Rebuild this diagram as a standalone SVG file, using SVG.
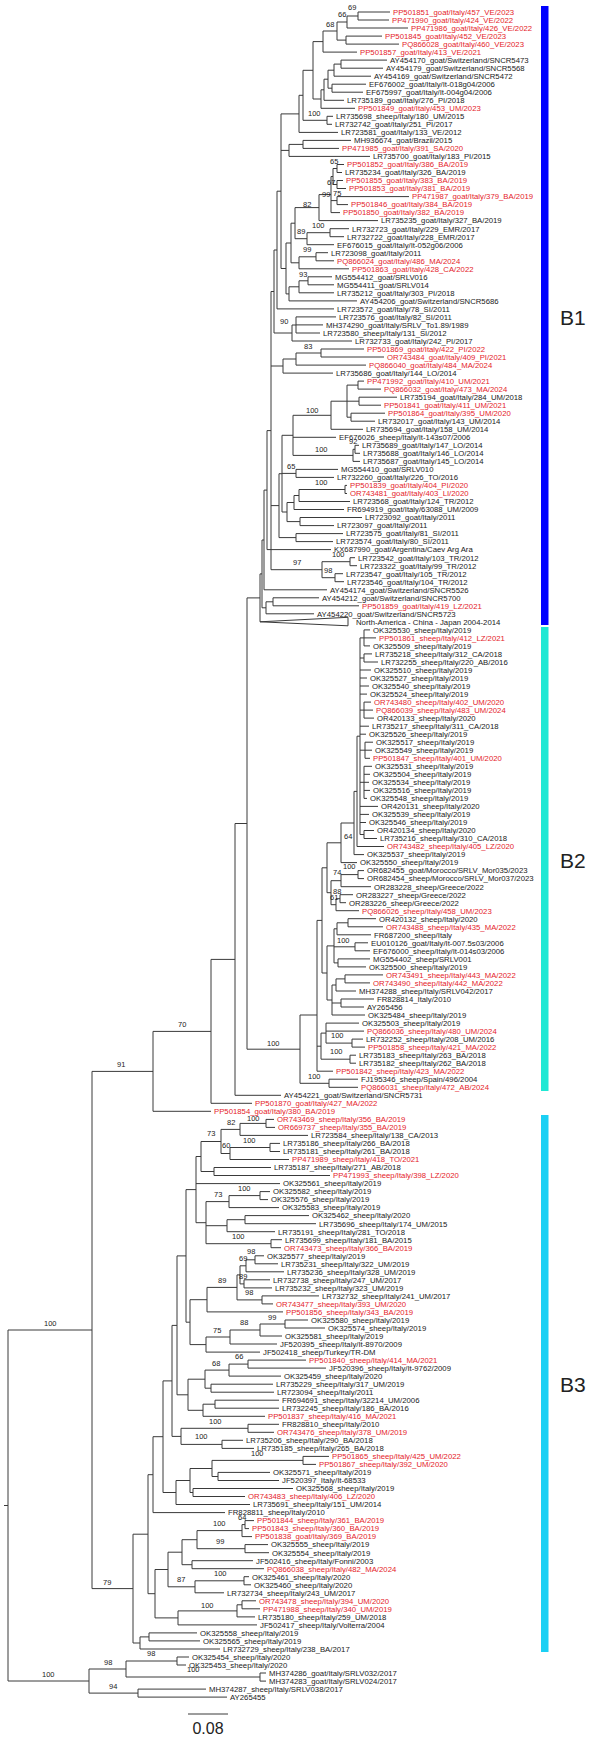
<svg xmlns="http://www.w3.org/2000/svg" width="589" height="1738" viewBox="0 0 589 1738">
<style>
text{font-family:"Liberation Sans",Arial,sans-serif;font-size:7.75px;fill:#1a1a1a}
.r{fill:#e5232a}
.s{font-size:7.5px;fill:#222}
.cl{font-size:21px;fill:#222}
.sc{font-size:16px;fill:#222}
.e{fill:none;stroke:#3a3a3a;stroke-width:1}
</style>
<rect width="589" height="1738" fill="#fff"/>
<g id="connectors">
<path class="e" d="M358 12V20M358 12H390M358 20H389M347 16V28M347 16H358M347 28H408M346 36.1V44.1M346 36.1H382M346 44.1H399M337 22V40.1M337 22H347M337 40.1H346M323 31V52.1M323 31H337M323 52.1H357M341 60.1V68.2M341 60.1H387M341 68.2H383M334 64.1V76.2M334 64.1H341M334 76.2H371M332 84.2V92.2M332 84.2H366M332 92.2H363M328 70.2V88.2M328 70.2H334M328 88.2H332M324 79.2V100.3M324 79.2H328M324 100.3H344M321 89.8V108.3M321 89.8H324M321 108.3H355M313 41.6V99M313 41.6H323M313 99H321M327 116.3V124.3M327 116.3H333M327 124.3H332M303 70.3V120.3M303 70.3H313M303 120.3H327M299 95.3V132.4M299 95.3H303M299 132.4H338M303 140.4V148.4M303 140.4H351M303 148.4H339M289 144.4V156.4M289 144.4H303M289 156.4H370M337 164.5V172.5M337 164.5H344M337 172.5H342M337 180.5V188.5M337 180.5H343M337 188.5H346M333 168.5V184.5M333 168.5H337M333 184.5H337M337 196.6V204.6M337 196.6H409M337 204.6H348M331 176.5V212.6M331 176.5H333M331 200.6H337M331 212.6H340M319 194.6V220.6M319 194.6H331M319 220.6H378M330 228.7V236.7M330 228.7H349M330 236.7H344M307 232.7V244.7M307 232.7H330M307 244.7H334M295 207.6V238.7M295 207.6H319M295 238.7H307M316 252.7V260.8M316 252.7H328M316 260.8H334M299 256.8V268.8M299 256.8H316M299 268.8H349M291 223.2V262.8M291 223.2H295M291 262.8H299M308 276.8V284.8M308 276.8H332M308 284.8H334M299 280.8V292.8M299 280.8H308M299 292.8H334M289 286.8V300.9M289 286.8H299M289 300.9H357M286 243V293.9M286 243H291M286 293.9H289M281 113.9V268.5M281 113.9H299M281 150.4H289M281 268.5H286M277 191.2V308.9M277 191.2H281M277 308.9H334M296 316.9V333M296 316.9H336M296 324.9H323M296 333H320M292 325V341M292 325H296M292 341H352M274 250V333M274 250H277M274 333H292M321 349V357M321 349H364M321 357H384M296 353V365.1M296 353H321M296 365.1H366M283 359V373.1M283 359H296M283 373.1H333M358 381.1V389.1M358 381.1H364M358 389.1H381M359 397.2V405.2M359 397.2H397M359 405.2H381M351 413.2V421.2M351 413.2H385M351 421.2H375M347 385.1V417.2M347 385.1H358M347 401.2H359M347 417.2H351M331 401.2V429.3M331 401.2H347M331 429.3H363M355 445.3V453.3M355 445.3H359M355 453.3H360M353 449.3V461.4M353 449.3H355M353 461.4H360M293 415.3V455.4M293 415.3H331M293 437.3H336M293 455.4H353M296 469.4V477.4M296 469.4H338M296 477.4H334M345 485.4V493.5M345 485.4H347M345 493.5H347M299 489.5V501.5M299 489.5H345M299 501.5H350M294 495.5V509.5M294 495.5H299M294 509.5H344M300 517.5V525.6M300 517.5H362M300 525.6H334M287 502.5V521.6M287 502.5H294M287 521.6H300M282 435.3V512M282 435.3H293M282 473.4H296M282 512H287M296 533.6V541.6M296 533.6H343M296 541.6H333M279 473.7V537.6M279 473.7H282M279 537.6H296M350 557.7V565.7M350 557.7H355M350 565.7H357M335 573.7V581.7M335 573.7H343M335 581.7H344M322 561.7V577.7M322 561.7H350M322 577.7H335M271 291.5V569.7M271 291.5H274M271 366H283M271 505.6H279M271 569.7H322M267 430.6V549.6M267 430.6H271M267 549.6H331M264 490.1V589.8M264 490.1H267M264 589.8H327M273 597.8V605.8M273 597.8H319M273 605.8H359M266 601.8V613.8M266 601.8H273M266 613.8H314M262 540V607.8M262 540H264M262 607.8H266M260 573.9V621.8M260 573.9H262"/>
<path class="e" d="M260 621.8L348 617.3V625.8Z"/>
<path class="e" d="M247 597.9V1049.2M247 597.9H260M247 1049.2H300M364 629.9V645.9M364 629.9H370M364 637.9H376M364 645.9H370M364 653.9V662M364 653.9H372M364 662H378M364 702.1V718.1M364 702.1H371M364 710.1H373M364 718.1H374M365 742.2V758.3M365 742.2H373M365 750.2H372M365 758.3H370M364 766.3V798.4M364 766.3H372M364 774.3H370M364 782.3H369M364 790.4H370M364 798.4H367M364 830.5V838.5M364 830.5H374M364 838.5H377M360 637.9V834.5M360 637.9H364M360 658H364M360 670H371M360 678H367M360 686H369M360 694.1H367M360 710.1H364M360 726.2H369M360 734.2H366M360 750.2H365M360 782.3H364M360 806.4H378M360 814.4H369M360 822.5H366M360 834.5H364M357 736.2V846.5M357 736.2H360M357 846.5H384M354 791.4V854.6M354 791.4H357M354 854.6H364M341 823V862.6M341 823H354M341 862.6H357M358 870.6V878.6M358 870.6H364M358 878.6H364M341 874.6V886.7M341 874.6H358M341 886.7H371M340 894.7V902.7M340 894.7H353M340 902.7H346M336 898.7V910.7M336 898.7H340M336 910.7H359M331 880.7V904.7M331 880.7H341M331 904.7H336M327 842.8V892.7M327 842.8H341M327 892.7H331M348 918.7V926.8M348 918.7H376M348 926.8H383M337 922.8V934.8M337 922.8H348M337 934.8H371M355 942.8V950.8M355 942.8H368M355 950.8H370M338 958.9V966.9M338 958.9H370M338 966.9H366M334 928.8V962.9M334 928.8H337M334 946.8H355M334 962.9H338M345 974.9V982.9M345 974.9H383M345 982.9H370M336 978.9V991M336 978.9H345M336 991H356M341 999V1007M341 999H374M341 1007H364M332 985V1015M332 985H336M332 1003H341M332 1015H365M327 945.9V1000M327 945.9H334M327 1000H332M322 867.8V973M322 867.8H327M322 973H327M352 1039.1V1047.1M352 1039.1H363M352 1047.1H365M326 1023.1V1043.1M326 1023.1H359M326 1031.1H364M326 1043.1H352M350 1055.2V1063.2M350 1055.2H356M350 1063.2H356M321 1033.1V1059.2M321 1033.1H326M321 1059.2H350M317 920.4V1071.2M317 920.4H322M317 1046.2H321M317 1071.2H333M329 1079.2V1087.3M329 1079.2H358M329 1087.3H358M300 1015V1083.3M300 1015H317M300 1083.3H329M235 823.5V1095.3M235 823.5H247M235 1095.3H281M211 959.4V1103.3M211 959.4H235M211 1103.3H252M153 1031.4V1111.3M153 1031.4H211M153 1111.3H211"/>
<path class="e" d="M266 1119.4V1127.4M266 1119.4H274M266 1127.4H275M240 1123.4V1135.4M240 1123.4H266M240 1135.4H308M270 1143.4V1151.5M270 1143.4H280M270 1151.5H280M230 1147.5V1159.5M230 1147.5H270M230 1159.5H289M221 1129.4V1153.5M221 1129.4H240M221 1153.5H230M214 1167.5V1175.5M214 1167.5H271M214 1175.5H330M201 1141.5V1171.5M201 1141.5H221M201 1171.5H214M260 1191.6V1199.6M260 1191.6H270M260 1199.6H268M229 1195.6V1207.6M229 1195.6H260M229 1207.6H279M245 1215.6V1223.7M245 1215.6H309M245 1223.7H316M227 1219.7V1231.7M227 1219.7H245M227 1231.7H275M271 1239.7V1247.7M271 1239.7H282M271 1247.7H281M206 1201.6V1243.7M206 1201.6H229M206 1225.7H227M206 1243.7H271M196 1156.5V1222.7M196 1156.5H201M196 1183.6H280M196 1222.7H206M255 1255.8V1263.8M255 1255.8H264M255 1263.8H278M246 1259.8V1271.8M246 1259.8H255M246 1271.8H284M244 1279.8V1287.9M244 1279.8H270M244 1287.9H272M240 1265.8V1283.9M240 1265.8H246M240 1283.9H244M262 1295.9V1303.9M262 1295.9H319M262 1303.9H273M237 1274.9V1299.9M237 1274.9H240M237 1299.9H262M207 1287.4V1311.9M207 1287.4H237M207 1311.9H283M285 1320V1328M285 1320H308M285 1328H325M260 1324V1336M260 1324H285M260 1336H282M230 1330V1344M230 1330H260M230 1344H277M206 1337V1352.1M206 1337H230M206 1352.1H260M190 1299.7V1344.6M190 1299.7H207M190 1344.6H206M186 1189.6V1322.2M186 1189.6H196M186 1322.2H190M248 1360.1V1368.1M248 1360.1H306M248 1368.1H326M229 1364.1V1376.1M229 1364.1H248M229 1376.1H281M211 1384.2V1392.2M211 1384.2H273M211 1392.2H274M205 1370.1V1388.2M205 1370.1H229M205 1388.2H211M215 1400.2V1408.2M215 1400.2H279M215 1408.2H279M203 1404.2V1416.3M203 1404.2H215M203 1416.3H265M188 1379.2V1410.3M188 1379.2H205M188 1410.3H203M177 1255.9V1394.8M177 1255.9H186M177 1394.8H188M248 1424.3V1432.3M248 1424.3H279M248 1432.3H274M222 1440.3V1448.4M222 1440.3H243M222 1448.4H254M181 1428.3V1444.4M181 1428.3H248M181 1444.4H222M172 1325.4V1436.4M172 1325.4H177M172 1436.4H181M303 1456.4V1464.4M303 1456.4H329M303 1464.4H316M218 1472.4V1480.5M218 1472.4H270M218 1480.5H279M212 1460.4V1476.5M212 1460.4H303M212 1476.5H218M193 1488.5V1496.5M193 1488.5H293M193 1496.5H245M190 1468.5V1492.5M190 1468.5H212M190 1492.5H193M176 1480.5V1504.5M176 1480.5H190M176 1504.5H250M163 1380.9V1492.5M163 1380.9H172M163 1492.5H176M153 1436.7V1512.6M153 1436.7H163M153 1512.6H225M245 1520.6V1528.6M245 1520.6H254M245 1528.6H249M242 1524.6V1536.6M242 1524.6H245M242 1536.6H252M245 1544.6V1552.7M245 1544.6H268M245 1552.7H269M197 1530.6V1548.7M197 1530.6H242M197 1548.7H245M192 1560.7V1568.7M192 1560.7H253M192 1568.7H264M182 1539.7V1564.7M182 1539.7H197M182 1564.7H192M244 1576.7V1584.8M244 1576.7H249M244 1584.8H251M195 1580.8V1592.8M195 1580.8H244M195 1592.8H224M168 1552.2V1586.8M168 1552.2H182M168 1586.8H195M242 1600.8V1608.8M242 1600.8H256M242 1608.8H260M237 1604.8V1616.9M237 1604.8H242M237 1616.9H255M178 1610.9V1624.9M178 1610.9H237M178 1624.9H257M155 1569.5V1617.9M155 1569.5H168M155 1617.9H178M148 1474.7V1593.7M148 1474.7H153M148 1593.7H155M149 1632.9V1640.9M149 1632.9H197M149 1640.9H200M140 1636.9V1649M140 1636.9H149M140 1649H220M133 1534.2V1643M133 1534.2H148M133 1643H140M92 1071.4V1588.6M92 1071.4H153M92 1588.6H133M177 1657V1665M177 1657H189M177 1665H186M260 1673V1681.1M260 1673H266M260 1681.1H266M126 1661V1677M126 1661H177M126 1677H260M138 1689.1V1697.1M138 1689.1H206M138 1697.1H227M89 1669V1693.1M89 1669H126M89 1693.1H138M8 1330V1681M8 1330H92M8 1681H89M4 1505.5H8"/>
</g>
<g id="clade-bars">
<rect x="541" y="6" width="7.5" height="619" fill="#0000ff"/>
<rect x="541" y="627" width="7.5" height="464" fill="#1fe8d4"/>
<rect x="541" y="1115" width="7.5" height="537" fill="#1bd0f4"/>
<text class="cl" x="560" y="325">B1</text>
<text class="cl" x="560" y="868">B2</text>
<text class="cl" x="560" y="1392">B3</text>
</g>
<g id="support">
<text class="s" x="348" y="10">69</text><text class="s" x="338" y="17">66</text><text class="s" x="326" y="27">68</text><text class="s" x="308" y="116">100</text><text class="s" x="330" y="164">65</text><text class="s" x="327" y="185">67</text><text class="s" x="333" y="196">75</text><text class="s" x="322" y="197">99</text><text class="s" x="303" y="207">82</text><text class="s" x="312" y="228">100</text><text class="s" x="297" y="234">89</text><text class="s" x="303" y="252">99</text><text class="s" x="299" y="277">93</text><text class="s" x="280" y="324">90</text><text class="s" x="304" y="349">83</text><text class="s" x="306" y="413">100</text><text class="s" x="349" y="444">92</text><text class="s" x="315" y="452">100</text><text class="s" x="287" y="469">65</text><text class="s" x="315" y="485">100</text><text class="s" x="332" y="557">100</text><text class="s" x="293" y="565">97</text><text class="s" x="324" y="573">98</text>
<text class="s" x="344" y="839">64</text><text class="s" x="343" y="869">100</text><text class="s" x="333" y="875">74</text><text class="s" x="333" y="894">88</text><text class="s" x="330" y="900">61</text><text class="s" x="337" y="943">100</text><text class="s" x="331" y="1038">100</text><text class="s" x="330" y="1054">100</text><text class="s" x="308" y="1079">100</text><text class="s" x="267" y="1046">100</text><text class="s" x="178" y="1027">70</text><text class="s" x="117" y="1067">91</text>
<text class="s" x="227" y="1125">82</text><text class="s" x="247" y="1121">100</text><text class="s" x="207" y="1136">73</text><text class="s" x="243" y="1143">100</text><text class="s" x="222" y="1148">60</text><text class="s" x="214" y="1197">73</text><text class="s" x="238" y="1191">100</text><text class="s" x="232" y="1239">100</text><text class="s" x="247" y="1254">98</text><text class="s" x="239" y="1261">69</text><text class="s" x="239" y="1279">89</text><text class="s" x="218" y="1283">89</text><text class="s" x="245" y="1295">98</text><text class="s" x="268" y="1320">99</text><text class="s" x="240" y="1325">88</text><text class="s" x="213" y="1333">75</text><text class="s" x="235" y="1359">66</text><text class="s" x="212" y="1366">68</text><text class="s" x="209" y="1424">100</text><text class="s" x="195" y="1439">100</text><text class="s" x="251" y="1456">100</text><text class="s" x="238" y="1520">64</text><text class="s" x="213" y="1526">100</text><text class="s" x="216" y="1544">99</text><text class="s" x="214" y="1576">100</text><text class="s" x="177" y="1582">87</text><text class="s" x="103" y="1585">79</text><text class="s" x="201" y="1608">100</text><text class="s" x="147" y="1656">98</text><text class="s" x="104" y="1665">98</text><text class="s" x="187" y="1672">100</text><text class="s" x="42" y="1677">100</text><text class="s" x="109" y="1689">94</text><text class="s" x="44" y="1326">100</text>
</g>
<g id="scale">
<path class="e" d="M188 1714H228"/>
<text class="sc" x="208" y="1734" text-anchor="middle">0.08</text>
</g>
<g id="leaves">
<g id="t1"><text class="r" x="393" y="14.8">PP501851_goat/Italy/457_VE/2023</text></g>
<g id="t2"><text class="r" x="392" y="22.8">PP471990_goat/Italy/424_VE/2022</text></g>
<g id="t3"><text class="r" x="411" y="30.8">PP471986_goat/Italy/426_VE/2022</text></g>
<g id="t4"><text class="r" x="385" y="38.9">PP501845_goat/Italy/452_VE/2023</text></g>
<g id="t5"><text class="r" x="402" y="46.9">PQ866028_goat/Italy/460_VE/2023</text></g>
<g id="t6"><text class="r" x="360" y="54.9">PP501857_goat/Italy/413_VE/2021</text></g>
<g id="t7"><text x="390" y="62.9">AY454170_goat/Switzerland/SNCR5473</text></g>
<g id="t8"><text x="386" y="71">AY454179_goat/Switzerland/SNCR5568</text></g>
<g id="t9"><text x="374" y="79">AY454169_goat/Switzerland/SNCR5472</text></g>
<g id="t10"><text x="369" y="87">EF676002_goat/Italy/It-018g04/2006</text></g>
<g id="t11"><text x="366" y="95">EF675997_goat/Italy/It-004g04/2006</text></g>
<g id="t12"><text x="347" y="103.1">LR735189_goat/Italy/276_PI/2018</text></g>
<g id="t13"><text class="r" x="358" y="111.1">PP501849_goat/Italy/453_UM/2023</text></g>
<g id="t14"><text x="336" y="119.1">LR735698_sheep/Italy/180_UM/2015</text></g>
<g id="t15"><text x="335" y="127.1">LR732742_goat/Italy/251_PI/2017</text></g>
<g id="t16"><text x="341" y="135.2">LR723581_goat/Italy/133_VE/2012</text></g>
<g id="t17"><text x="354" y="143.2">MH936674_goat/Brazil/2015</text></g>
<g id="t18"><text class="r" x="342" y="151.2">PP471985_goat/Italy/391_SA/2020</text></g>
<g id="t19"><text x="373" y="159.2">LR735700_goat/Italy/183_PI/2015</text></g>
<g id="t20"><text class="r" x="347" y="167.3">PP501852_goat/Italy/386_BA/2019</text></g>
<g id="t21"><text x="345" y="175.3">LR735234_goat/Italy/326_BA/2019</text></g>
<g id="t22"><text class="r" x="346" y="183.3">PP501855_goat/Italy/383_BA/2019</text></g>
<g id="t23"><text class="r" x="349" y="191.3">PP501853_goat/Italy/381_BA/2019</text></g>
<g id="t24"><text class="r" x="412" y="199.4">PP471987_goat/Italy/379_BA/2019</text></g>
<g id="t25"><text class="r" x="351" y="207.4">PP501846_goat/Italy/384_BA/2019</text></g>
<g id="t26"><text class="r" x="343" y="215.4">PP501850_goat/Italy/382_BA/2019</text></g>
<g id="t27"><text x="381" y="223.4">LR735235_goat/Italy/327_BA/2019</text></g>
<g id="t28"><text x="352" y="231.5">LR732723_goat/Italy/229_EMR/2017</text></g>
<g id="t29"><text x="347" y="239.5">LR732722_goat/Italy/228_EMR/2017</text></g>
<g id="t30"><text x="337" y="247.5">EF676015_goat/Italy/It-052g06/2006</text></g>
<g id="t31"><text x="331" y="255.5">LR723098_goat/Italy/2011</text></g>
<g id="t32"><text class="r" x="337" y="263.6">PQ866024_goat/Italy/486_MA/2024</text></g>
<g id="t33"><text class="r" x="352" y="271.6">PP501863_goat/Italy/428_CA/2022</text></g>
<g id="t34"><text x="335" y="279.6">MG554412_goat/SRLV016</text></g>
<g id="t35"><text x="337" y="287.6">MG554411_goat/SRLV014</text></g>
<g id="t36"><text x="337" y="295.6">LR735212_goat/Italy/303_PI/2018</text></g>
<g id="t37"><text x="360" y="303.7">AY454206_goat/Switzerland/SNCR5686</text></g>
<g id="t38"><text x="337" y="311.7">LR723572_goat/Italy/78_SI/2011</text></g>
<g id="t39"><text x="339" y="319.7">LR723576_goat/Italy/82_SI/2011</text></g>
<g id="t40"><text x="326" y="327.7">MH374290_goat/Italy/SRLV_To1.89/1989</text></g>
<g id="t41"><text x="323" y="335.8">LR723580_sheep/Italy/131_SI/2012</text></g>
<g id="t42"><text x="355" y="343.8">LR732733_goat/Italy/242_PI/2017</text></g>
<g id="t43"><text class="r" x="367" y="351.8">PP501869_goat/Italy/422_PI/2022</text></g>
<g id="t44"><text class="r" x="387" y="359.8">OR743484_goat/Italy/409_PI/2021</text></g>
<g id="t45"><text class="r" x="369" y="367.9">PQ866040_goat/Italy/484_MA/2024</text></g>
<g id="t46"><text x="336" y="375.9">LR735686_goat/Italy/144_LO/2014</text></g>
<g id="t47"><text class="r" x="367" y="383.9">PP471992_goat/Italy/410_UM/2021</text></g>
<g id="t48"><text class="r" x="384" y="391.9">PQ866032_goat/Italy/473_MA/2024</text></g>
<g id="t49"><text x="400" y="400">LR735194_goat/Italy/284_UM/2018</text></g>
<g id="t50"><text class="r" x="384" y="408">PP501841_goat/Italy/411_UM/2021</text></g>
<g id="t51"><text class="r" x="388" y="416">PP501864_goat/Italy/395_UM/2020</text></g>
<g id="t52"><text x="378" y="424">LR732017_goat/Italy/143_UM/2014</text></g>
<g id="t53"><text x="366" y="432.1">LR735694_goat/Italy/158_UM/2014</text></g>
<g id="t54"><text x="339" y="440.1">EF676026_sheep/Italy/It-143s07/2006</text></g>
<g id="t55"><text x="362" y="448.1">LR735689_goat/Italy/147_LO/2014</text></g>
<g id="t56"><text x="363" y="456.1">LR735688_goat/Italy/146_LO/2014</text></g>
<g id="t57"><text x="363" y="464.2">LR735687_goat/Italy/145_LO/2014</text></g>
<g id="t58"><text x="341" y="472.2">MG554410_goat/SRLV010</text></g>
<g id="t59"><text x="337" y="480.2">LR732260_goat/Italy/226_TO/2016</text></g>
<g id="t60"><text class="r" x="350" y="488.2">PP501839_goat/Italy/404_PI/2020</text></g>
<g id="t61"><text class="r" x="350" y="496.3">OR743481_goat/Italy/403_LI/2020</text></g>
<g id="t62"><text x="353" y="504.3">LR723568_goat/Italy/124_TR/2012</text></g>
<g id="t63"><text x="347" y="512.3">FR694919_goat/Italy/63088_UM/2009</text></g>
<g id="t64"><text x="365" y="520.3">LR723092_goat/Italy/2011</text></g>
<g id="t65"><text x="337" y="528.4">LR723097_goat/Italy/2011</text></g>
<g id="t66"><text x="346" y="536.4">LR723575_goat/Italy/81_SI/2011</text></g>
<g id="t67"><text x="336" y="544.4">LR723574_goat/Italy/80_SI/2011</text></g>
<g id="t68"><text x="334" y="552.4">KX687990_goat/Argentina/Caev Arg Ara</text></g>
<g id="t69"><text x="358" y="560.5">LR723542_goat/Italy/103_TR/2012</text></g>
<g id="t70"><text x="360" y="568.5">LR723322_goat/Italy/99_TR/2012</text></g>
<g id="t71"><text x="346" y="576.5">LR723547_goat/Italy/105_TR/2012</text></g>
<g id="t72"><text x="347" y="584.5">LR723546_goat/Italy/104_TR/2012</text></g>
<g id="t73"><text x="330" y="592.6">AY454174_goat/Switzerland/SNCR5526</text></g>
<g id="t74"><text x="322" y="600.6">AY454212_goat/Switzerland/SNCR5700</text></g>
<g id="t75"><text class="r" x="362" y="608.6">PP501859_goat/Italy/419_LZ/2021</text></g>
<g id="t76"><text x="317" y="616.6">AY454220_goat/Switzerland/SNCR5723</text></g>
<g id="t77"><text x="356" y="624.6">North-America - China - Japan 2004-2014</text></g>
<g id="t78"><text x="373" y="632.7">OK325530_sheep/Italy/2019</text></g>
<g id="t79"><text class="r" x="379" y="640.7">PP501861_sheep/Italy/412_LZ/2021</text></g>
<g id="t80"><text x="373" y="648.7">OK325509_sheep/Italy/2019</text></g>
<g id="t81"><text x="375" y="656.7">LR735218_sheep/Italy/312_CA/2018</text></g>
<g id="t82"><text x="381" y="664.8">LR732255_sheep/Italy/220_AB/2016</text></g>
<g id="t83"><text x="374" y="672.8">OK325510_sheep/Italy/2019</text></g>
<g id="t84"><text x="370" y="680.8">OK325527_sheep/Italy/2019</text></g>
<g id="t85"><text x="372" y="688.8">OK325540_sheep/Italy/2019</text></g>
<g id="t86"><text x="370" y="696.9">OK325524_sheep/Italy/2019</text></g>
<g id="t87"><text class="r" x="374" y="704.9">OR743480_sheep/Italy/402_UM/2020</text></g>
<g id="t88"><text class="r" x="376" y="712.9">PQ866039_sheep/Italy/483_UM/2024</text></g>
<g id="t89"><text x="377" y="720.9">OR420133_sheep/Italy/2020</text></g>
<g id="t90"><text x="372" y="729">LR735217_sheep/Italy/311_CA/2018</text></g>
<g id="t91"><text x="369" y="737">OK325526_sheep/Italy/2019</text></g>
<g id="t92"><text x="376" y="745">OK325517_sheep/Italy/2019</text></g>
<g id="t93"><text x="375" y="753">OK325549_sheep/Italy/2019</text></g>
<g id="t94"><text class="r" x="373" y="761.1">PP501847_sheep/Italy/401_UM/2020</text></g>
<g id="t95"><text x="375" y="769.1">OK325531_sheep/Italy/2019</text></g>
<g id="t96"><text x="373" y="777.1">OK325504_sheep/Italy/2019</text></g>
<g id="t97"><text x="372" y="785.1">OK325534_sheep/Italy/2019</text></g>
<g id="t98"><text x="373" y="793.2">OK325516_sheep/Italy/2019</text></g>
<g id="t99"><text x="370" y="801.2">OK325548_sheep/Italy/2019</text></g>
<g id="t100"><text x="381" y="809.2">OR420131_sheep/Italy/2020</text></g>
<g id="t101"><text x="372" y="817.2">OK325539_sheep/Italy/2019</text></g>
<g id="t102"><text x="369" y="825.3">OK325546_sheep/Italy/2019</text></g>
<g id="t103"><text x="377" y="833.3">OR420134_sheep/Italy/2020</text></g>
<g id="t104"><text x="380" y="841.3">LR735216_sheep/Italy/310_CA/2018</text></g>
<g id="t105"><text class="r" x="387" y="849.3">OR743482_sheep/Italy/405_LZ/2020</text></g>
<g id="t106"><text x="367" y="857.4">OK325537_sheep/Italy/2019</text></g>
<g id="t107"><text x="360" y="865.4">OK325550_sheep/Italy/2019</text></g>
<g id="t108"><text x="367" y="873.4">OR682455_goat/Morocco/SRLV_Mor035/2023</text></g>
<g id="t109"><text x="367" y="881.4">OR682454_sheep/Morocco/SRLV_Mor037/2023</text></g>
<g id="t110"><text x="374" y="889.5">OR283228_sheep/Greece/2022</text></g>
<g id="t111"><text x="356" y="897.5">OR283227_sheep/Greece/2022</text></g>
<g id="t112"><text x="349" y="905.5">OR283226_sheep/Greece/2022</text></g>
<g id="t113"><text class="r" x="362" y="913.5">PQ866026_sheep/Italy/458_UM/2023</text></g>
<g id="t114"><text x="379" y="921.5">OR420132_sheep/Italy/2020</text></g>
<g id="t115"><text class="r" x="386" y="929.6">OR743488_sheep/Italy/435_MA/2022</text></g>
<g id="t116"><text x="374" y="937.6">FR687200_sheep/Italy</text></g>
<g id="t117"><text x="371" y="945.6">EU010126_goat/Italy/It-007.5s03/2006</text></g>
<g id="t118"><text x="373" y="953.6">EF676000_sheep/Italy/It-014s03/2006</text></g>
<g id="t119"><text x="373" y="961.7">MG554402_sheep/SRLV001</text></g>
<g id="t120"><text x="369" y="969.7">OK325500_sheep/Italy/2019</text></g>
<g id="t121"><text class="r" x="386" y="977.7">OR743491_sheep/Italy/443_MA/2022</text></g>
<g id="t122"><text class="r" x="373" y="985.7">OR743490_sheep/Italy/442_MA/2022</text></g>
<g id="t123"><text x="359" y="993.8">MH374288_sheep/Italy/SRLV042/2017</text></g>
<g id="t124"><text x="377" y="1001.8">FR828814_Italy/2010</text></g>
<g id="t125"><text x="367" y="1009.8">AY265456</text></g>
<g id="t126"><text x="368" y="1017.8">OK325484_sheep/Italy/2019</text></g>
<g id="t127"><text x="362" y="1025.9">OK325503_sheep/Italy/2019</text></g>
<g id="t128"><text class="r" x="367" y="1033.9">PQ866036_sheep/Italy/480_UM/2024</text></g>
<g id="t129"><text x="366" y="1041.9">LR732252_sheep/Italy/208_UM/2016</text></g>
<g id="t130"><text class="r" x="368" y="1049.9">PP501858_sheep/Italy/421_MA/2022</text></g>
<g id="t131"><text x="359" y="1058">LR735183_sheep/Italy/263_BA/2018</text></g>
<g id="t132"><text x="359" y="1066">LR735182_sheep/Italy/262_BA/2018</text></g>
<g id="t133"><text class="r" x="336" y="1074">PP501842_sheep/Italy/423_MA/2022</text></g>
<g id="t134"><text x="361" y="1082">FJ195346_sheep/Spain/496/2004</text></g>
<g id="t135"><text class="r" x="361" y="1090.1">PQ866031_sheep/Italy/472_AB/2024</text></g>
<g id="t136"><text x="284" y="1098.1">AY454221_goat/Switzerland/SNCR5731</text></g>
<g id="t137"><text class="r" x="255" y="1106.1">PP501870_goat/Italy/427_MA/2022</text></g>
<g id="t138"><text class="r" x="214" y="1114.1">PP501854_goat/Italy/380_BA/2019</text></g>
<g id="t139"><text class="r" x="277" y="1122.2">OR743469_sheep/Italy/356_BA/2019</text></g>
<g id="t140"><text class="r" x="278" y="1130.2">OR669737_sheep/Italy/355_BA/2019</text></g>
<g id="t141"><text x="311" y="1138.2">LR723584_sheep/Italy/138_CA/2013</text></g>
<g id="t142"><text x="283" y="1146.2">LR735186_sheep/Italy/266_BA/2018</text></g>
<g id="t143"><text x="283" y="1154.3">LR735181_sheep/Italy/261_BA/2018</text></g>
<g id="t144"><text class="r" x="292" y="1162.3">PP471989_sheep/Italy/418_TO/2021</text></g>
<g id="t145"><text x="274" y="1170.3">LR735187_sheep/Italy/271_AB/2018</text></g>
<g id="t146"><text class="r" x="333" y="1178.3">PP471993_sheep/Italy/398_LZ/2020</text></g>
<g id="t147"><text x="283" y="1186.4">OK325561_sheep/Italy/2019</text></g>
<g id="t148"><text x="273" y="1194.4">OK325582_sheep/Italy/2019</text></g>
<g id="t149"><text x="271" y="1202.4">OK325576_sheep/Italy/2019</text></g>
<g id="t150"><text x="282" y="1210.4">OK325583_sheep/Italy/2019</text></g>
<g id="t151"><text x="312" y="1218.4">OK325462_sheep/Italy/2020</text></g>
<g id="t152"><text x="319" y="1226.5">LR735696_sheep/Italy/174_UM/2015</text></g>
<g id="t153"><text x="278" y="1234.5">LR735191_sheep/Italy/281_TO/2018</text></g>
<g id="t154"><text x="285" y="1242.5">LR735699_sheep/Italy/181_BA/2015</text></g>
<g id="t155"><text class="r" x="284" y="1250.5">OR743473_sheep/Italy/366_BA/2019</text></g>
<g id="t156"><text x="267" y="1258.6">OK325577_sheep/Italy/2019</text></g>
<g id="t157"><text x="281" y="1266.6">LR735231_sheep/Italy/322_UM/2019</text></g>
<g id="t158"><text x="287" y="1274.6">LR735236_sheep/Italy/328_UM/2019</text></g>
<g id="t159"><text x="273" y="1282.6">LR732738_sheep/Italy/247_UM/2017</text></g>
<g id="t160"><text x="275" y="1290.7">LR735232_sheep/Italy/323_UM/2019</text></g>
<g id="t161"><text x="322" y="1298.7">LR732732_sheep/Italy/241_UM/2017</text></g>
<g id="t162"><text class="r" x="276" y="1306.7">OR743477_sheep/Italy/393_UM/2020</text></g>
<g id="t163"><text class="r" x="286" y="1314.7">PP501856_sheep/Italy/343_BA/2019</text></g>
<g id="t164"><text x="311" y="1322.8">OK325580_sheep/Italy/2019</text></g>
<g id="t165"><text x="328" y="1330.8">OK325574_sheep/Italy/2019</text></g>
<g id="t166"><text x="285" y="1338.8">OK325581_sheep/Italy/2019</text></g>
<g id="t167"><text x="280" y="1346.8">JF520395_sheep/Italy/It-8970/2009</text></g>
<g id="t168"><text x="263" y="1354.9">JF502418_sheep/Turkey/TR-DM</text></g>
<g id="t169"><text class="r" x="309" y="1362.9">PP501840_sheep/Italy/414_MA/2021</text></g>
<g id="t170"><text x="329" y="1370.9">JF520396_sheep/Italy/It-9762/2009</text></g>
<g id="t171"><text x="284" y="1378.9">OK325459_sheep/Italy/2020</text></g>
<g id="t172"><text x="276" y="1387">LR735229_sheep/Italy/317_UM/2019</text></g>
<g id="t173"><text x="277" y="1395">LR723094_sheep/Italy/2011</text></g>
<g id="t174"><text x="282" y="1403">FR694691_sheep/Italy/32214_UM/2006</text></g>
<g id="t175"><text x="282" y="1411">LR732245_sheep/Italy/186_BA/2016</text></g>
<g id="t176"><text class="r" x="268" y="1419.1">PP501837_sheep/Italy/416_MA/2021</text></g>
<g id="t177"><text x="282" y="1427.1">FR828810_sheep/Italy/2010</text></g>
<g id="t178"><text class="r" x="277" y="1435.1">OR743476_sheep/Italy/378_UM/2019</text></g>
<g id="t179"><text x="246" y="1443.1">LR735206_sheep/Italy/290_BA/2018</text></g>
<g id="t180"><text x="257" y="1451.2">LR735185_sheep/Italy/265_BA/2018</text></g>
<g id="t181"><text class="r" x="332" y="1459.2">PP501865_sheep/Italy/425_UM/2022</text></g>
<g id="t182"><text class="r" x="319" y="1467.2">PP501867_sheep/Italy/392_UM/2020</text></g>
<g id="t183"><text x="273" y="1475.2">OK325571_sheep/Italy/2019</text></g>
<g id="t184"><text x="282" y="1483.3">JF520397_Italy/It-68533</text></g>
<g id="t185"><text x="296" y="1491.3">OK325568_sheep/Italy/2019</text></g>
<g id="t186"><text class="r" x="248" y="1499.3">OR743483_sheep/Italy/406_LZ/2020</text></g>
<g id="t187"><text x="253" y="1507.3">LR735691_sheep/Italy/151_UM/2014</text></g>
<g id="t188"><text x="228" y="1515.4">FR828811_sheep/Italy/2010</text></g>
<g id="t189"><text class="r" x="257" y="1523.4">PP501844_sheep/Italy/361_BA/2019</text></g>
<g id="t190"><text class="r" x="252" y="1531.4">PP501843_sheep/Italy/360_BA/2019</text></g>
<g id="t191"><text class="r" x="255" y="1539.4">PP501838_goat/Italy/369_BA/2019</text></g>
<g id="t192"><text x="271" y="1547.4">OK325555_sheep/Italy/2019</text></g>
<g id="t193"><text x="272" y="1555.5">OK325554_sheep/Italy/2019</text></g>
<g id="t194"><text x="256" y="1563.5">JF502416_sheep/Italy/Fonni/2003</text></g>
<g id="t195"><text class="r" x="267" y="1571.5">PQ866038_sheep/Italy/482_MA/2024</text></g>
<g id="t196"><text x="252" y="1579.5">OK325461_sheep/Italy/2020</text></g>
<g id="t197"><text x="254" y="1587.6">OK325460_sheep/Italy/2020</text></g>
<g id="t198"><text x="227" y="1595.6">LR732734_sheep/Italy/243_UM/2017</text></g>
<g id="t199"><text class="r" x="259" y="1603.6">OR743478_sheep/Italy/394_UM/2020</text></g>
<g id="t200"><text class="r" x="263" y="1611.6">PP471988_sheep/Italy/340_UM/2019</text></g>
<g id="t201"><text x="258" y="1619.7">LR735180_sheep/Italy/259_UM/2018</text></g>
<g id="t202"><text x="260" y="1627.7">JF502417_sheep/Italy/Volterra/2004</text></g>
<g id="t203"><text x="200" y="1635.7">OK325558_sheep/Italy/2019</text></g>
<g id="t204"><text x="203" y="1643.7">OK325565_sheep/Italy/2019</text></g>
<g id="t205"><text x="223" y="1651.8">LR732729_sheep/Italy/238_BA/2017</text></g>
<g id="t206"><text x="192" y="1659.8">OK325454_sheep/Italy/2020</text></g>
<g id="t207"><text x="189" y="1667.8">OK325453_sheep/Italy/2020</text></g>
<g id="t208"><text x="269" y="1675.8">MH374286_goat/Italy/SRLV032/2017</text></g>
<g id="t209"><text x="269" y="1683.9">MH374283_goat/Italy/SRLV024/2017</text></g>
<g id="t210"><text x="209" y="1691.9">MH374287_sheep/Italy/SRLV038/2017</text></g>
<g id="t211"><text x="230" y="1699.9">AY265455</text></g>
</g>
</svg>
